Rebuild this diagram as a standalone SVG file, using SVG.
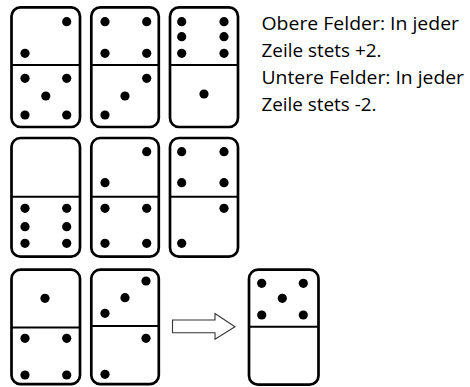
<svg xmlns="http://www.w3.org/2000/svg" width="470" height="387" viewBox="0 0 470 387">
<style>
.card{fill:#fff;stroke:#000;stroke-width:2.7}
.div{stroke:#000;stroke-width:2}
.dot{fill:#000}
.txt{font-family:"Open Sans","Noto Sans",sans-serif;font-size:19px;fill:#000}
.arr{fill:#fff;stroke:#333;stroke-width:1.1}
</style>
<rect width="470" height="387" fill="#fff"/>
<!-- Row 1 -->
<g id="d11">
<rect class="card" x="11.5" y="7.3" width="68.5" height="119.7" rx="9"/>
<line class="div" x1="11.5" y1="65" x2="80" y2="65"/>
<circle class="dot" cx="66.7" cy="21.7" r="4.6"/><circle class="dot" cx="25" cy="53.3" r="4.6"/>
<circle class="dot" cx="25" cy="78.3" r="4.6"/><circle class="dot" cx="66.7" cy="78.3" r="4.6"/>
<circle class="dot" cx="45.8" cy="96" r="4.6"/>
<circle class="dot" cx="25" cy="115" r="4.6"/><circle class="dot" cx="66.7" cy="115" r="4.6"/>
</g>
<g id="d12">
<rect class="card" x="91.3" y="7.3" width="67.5" height="119.7" rx="9"/>
<line class="div" x1="91.3" y1="65" x2="158.8" y2="65"/>
<circle class="dot" cx="105" cy="21.7" r="4.6"/><circle class="dot" cx="146.7" cy="21.7" r="4.6"/>
<circle class="dot" cx="105" cy="53.3" r="4.6"/><circle class="dot" cx="146.7" cy="53.3" r="4.6"/>
<circle class="dot" cx="146.7" cy="78.3" r="4.6"/><circle class="dot" cx="125" cy="96" r="4.6"/>
<circle class="dot" cx="105" cy="115" r="4.6"/>
</g>
<g id="d13">
<rect class="card" x="170" y="7.3" width="68" height="119.7" rx="9"/>
<line class="div" x1="170" y1="65" x2="238" y2="65"/>
<circle class="dot" cx="181.7" cy="21.7" r="4.6"/><circle class="dot" cx="224" cy="21.7" r="4.6"/>
<circle class="dot" cx="181.7" cy="36.7" r="4.6"/><circle class="dot" cx="224" cy="36.7" r="4.6"/>
<circle class="dot" cx="181.7" cy="53.3" r="4.6"/><circle class="dot" cx="224" cy="53.3" r="4.6"/>
<circle class="dot" cx="204" cy="94" r="4.6"/>
</g>
<!-- Row 2 -->
<g id="d21">
<rect class="card" x="11.5" y="138" width="68.5" height="118.7" rx="9"/>
<line class="div" x1="11.5" y1="196.7" x2="80" y2="196.7"/>
<circle class="dot" cx="25" cy="208.3" r="4.6"/><circle class="dot" cx="66.7" cy="208.3" r="4.6"/>
<circle class="dot" cx="25" cy="226.7" r="4.6"/><circle class="dot" cx="66.7" cy="226.7" r="4.6"/>
<circle class="dot" cx="25" cy="243.3" r="4.6"/><circle class="dot" cx="66.7" cy="243.3" r="4.6"/>
</g>
<g id="d22">
<rect class="card" x="91.3" y="138" width="67.5" height="118.7" rx="9"/>
<line class="div" x1="91.3" y1="196.7" x2="158.8" y2="196.7"/>
<circle class="dot" cx="146.7" cy="151.7" r="4.6"/><circle class="dot" cx="105" cy="182.7" r="4.6"/>
<circle class="dot" cx="105" cy="208.3" r="4.6"/><circle class="dot" cx="146.7" cy="208.3" r="4.6"/>
<circle class="dot" cx="105" cy="243.3" r="4.6"/><circle class="dot" cx="146.7" cy="243.3" r="4.6"/>
</g>
<g id="d23">
<rect class="card" x="170" y="138" width="68" height="118.7" rx="9"/>
<line class="div" x1="170" y1="196.7" x2="238" y2="196.7"/>
<circle class="dot" cx="181.7" cy="151.7" r="4.6"/><circle class="dot" cx="224" cy="151.7" r="4.6"/>
<circle class="dot" cx="181.7" cy="182.7" r="4.6"/><circle class="dot" cx="224" cy="182.7" r="4.6"/>
<circle class="dot" cx="224" cy="208.3" r="4.6"/><circle class="dot" cx="181.7" cy="243.3" r="4.6"/>
</g>
<!-- Row 3 -->
<g id="d31">
<rect class="card" x="11.5" y="269.7" width="68.5" height="114.5" rx="9"/>
<line class="div" x1="11.5" y1="327.5" x2="80" y2="327.5"/>
<circle class="dot" cx="45" cy="298.3" r="4.6"/>
<circle class="dot" cx="25" cy="338.3" r="4.6"/><circle class="dot" cx="66.7" cy="338.3" r="4.6"/>
<circle class="dot" cx="25" cy="375" r="4.6"/><circle class="dot" cx="66.7" cy="375" r="4.6"/>
</g>
<g id="d32">
<rect class="card" x="91.3" y="269.7" width="67.5" height="114.5" rx="9"/>
<line class="div" x1="91.3" y1="326" x2="158.8" y2="326"/>
<circle class="dot" cx="146" cy="281" r="4.6"/><circle class="dot" cx="125" cy="297.7" r="4.6"/>
<circle class="dot" cx="105" cy="313.3" r="4.6"/>
<circle class="dot" cx="146" cy="338.3" r="4.6"/><circle class="dot" cx="105" cy="374.3" r="4.6"/>
</g>
<g id="answer">
<rect class="card" x="249" y="269.7" width="69.5" height="115" rx="9"/>
<line class="div" x1="249" y1="326.7" x2="318.5" y2="326.7"/>
<circle class="dot" cx="261.7" cy="283.3" r="4.6"/><circle class="dot" cx="303.3" cy="283.3" r="4.6"/>
<circle class="dot" cx="282.3" cy="298.3" r="4.6"/>
<circle class="dot" cx="261.7" cy="315" r="4.6"/><circle class="dot" cx="303.3" cy="315" r="4.6"/>
</g>
<g id="connectors">
<polygon class="arr" points="172.5,320 215,320 215,313.5 235,326.7 215,339.3 215,332.8 172.5,332.8"/>
</g>
<g id="text">
<text class="txt" x="261.5" y="30" textLength="197.5" lengthAdjust="spacingAndGlyphs">Obere Felder: In jeder</text>
<text class="txt" x="261.5" y="57" textLength="120" lengthAdjust="spacingAndGlyphs">Zeile stets +2.</text>
<text class="txt" x="261.5" y="84" textLength="202.5" lengthAdjust="spacingAndGlyphs">Untere Felder: In jeder</text>
<text class="txt" x="261.5" y="111" textLength="115" lengthAdjust="spacingAndGlyphs">Zeile stets -2.</text>
</g>
</svg>
